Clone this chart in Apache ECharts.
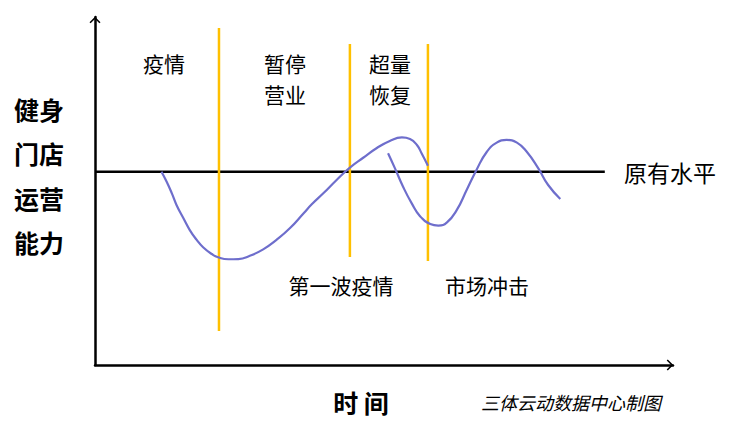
<!DOCTYPE html>
<html>
<head>
<meta charset="utf-8">
<script src="https://cdn.jsdelivr.net/npm/echarts@6/dist/echarts.min.js"></script>
<style>
html,body{margin:0;padding:0;background:#fff;}
#c{width:735px;height:430px;}
</style>
</head>
<body>
<div id="c"></div>
<script>
// time (x, 0..100) vs operating capacity (y, 原有水平 = 100)
var curveFirstWave = [
  [11.5,100],[12.4,94.8],[13.3,88.8],[14.1,82.8],[15.3,75.9],[16.4,69.8],[17.6,64.7],
  [18.7,60.9],[20.2,57.4],[21.3,55.7],[23.1,54.7],[24.8,54.8],[26.8,56.5],[29.1,59.8],
  [31.4,64.7],[33.7,70.7],[36.1,78.5],[37.5,83.1],[39.5,88.8],[41.8,95.7],[44.1,102.1],
  [46.4,107.2],[48.7,112.1],[51.0,115.9],[53.1,117.7],[54.5,116.9],[55.7,113.8],
  [56.5,109.5],[57.6,103.1]
];
var curveMarketShock = [
  [50.7,109.5],[51.9,101.7],[53.3,92.2],[54.8,83.6],[56.2,77.1],[58.0,72.9],[59.4,72.1],
  [60.9,73.8],[62.6,80.2],[64.3,90.5],[66.0,100.9],[67.8,110.3],[69.5,115.0],[71.2,116.4],
  [73.0,115.0],[74.7,110.3],[76.7,101.7],[78.4,93.1],[80.5,85.9]
];
var baselineLevel = [[0,100],[88.2,100]];
var dividerA = [[21.45,174.3],[21.45,17.6]];
var dividerB = [[44.1,166.0],[44.1,55.9]];
var dividerC = [[57.6,166.0],[57.6,53.8]];
var phaseLabels = [['疫情'],['暂停','营业'],['超量','恢复']];
var eventLabels = ['第一波疫情','市场冲击'];
var levelLabel = '原有水平';
var yTitleLines = ['健身','门店','运营','能力'];
var xTitle = '时 间';
var sourceNote = '三体云动数据中心制图';

var chart = echarts.init(document.getElementById('c'), null, {renderer:'svg'});
var FONT = '"Noto Sans CJK SC", "Noto Sans", sans-serif';
var chevron = 'path://M0,10 L10,0 L20,10 L18,12 L10,4 L2,12 Z';
function axisCfg(min,max){
  return {
    type:'value', min:min, max:max,
    axisLine:{show:true,onZero:false,symbol:['none',chevron],symbolSize:[11,7],symbolOffset:[0,-3],
      lineStyle:{color:'#000',width:2.5}},
    axisTick:{show:false}, axisLabel:{show:false}, splitLine:{show:false}
  };
}
function seg(data,color,w,z){
  return {type:'line',data:data,symbol:'none',silent:true,z:z||2,
    lineStyle:{color:color,width:w}};
}
var graphics = [];
var phaseX = [164,285,390];
phaseLabels.forEach(function(lines,i){
  lines.forEach(function(t,j){
    graphics.push({type:'text',x:phaseX[i],y:63+j*31,style:{text:t,font:'21px '+FONT,lineHeight:30,fill:'#000',align:'center',verticalAlign:'middle'}});
  });
});
graphics.push({type:'text',x:341,y:285,style:{text:eventLabels[0],font:'21px '+FONT,fill:'#000',align:'center',verticalAlign:'middle'}});
graphics.push({type:'text',x:487,y:285,style:{text:eventLabels[1],font:'21px '+FONT,fill:'#000',align:'center',verticalAlign:'middle'}});
graphics.push({type:'text',x:624,y:172,style:{text:levelLabel,font:'23px '+FONT,fill:'#000',align:'left',verticalAlign:'middle'}});
yTitleLines.forEach(function(t,i){
  graphics.push({type:'text',x:14,y:109+i*44.3,style:{text:t,font:'bold 25px '+FONT,fill:'#000',align:'left',verticalAlign:'middle'}});
});
graphics.push({type:'text',x:361,y:402,style:{text:xTitle,font:'bold 25px '+FONT,fill:'#000',align:'center',verticalAlign:'middle'}});
graphics.push({type:'text',x:571,y:402,style:{text:sourceNote,font:'italic 18px '+FONT,fill:'#000',align:'center',verticalAlign:'middle'}});

chart.setOption({
  animation:false,
  grid:{left:95,right:62,top:17,bottom:65},
  xAxis:axisCfg(0,100),
  yAxis:axisCfg(0,180),
  series:[
    seg(baselineLevel,'#000',2.5,1),
    seg(dividerA,'#FFC000',2.5,2),
    seg(dividerB,'#FFC000',2.5,2),
    seg(dividerC,'#FFC000',2.5,2),
    Object.assign(seg(curveFirstWave,'#6E6ECC',2.2,3),{smooth:0.5}),
    Object.assign(seg(curveMarketShock,'#6E6ECC',2.2,3),{smooth:0.5})
  ],
  graphic:graphics
});
</script>
</body>
</html>
